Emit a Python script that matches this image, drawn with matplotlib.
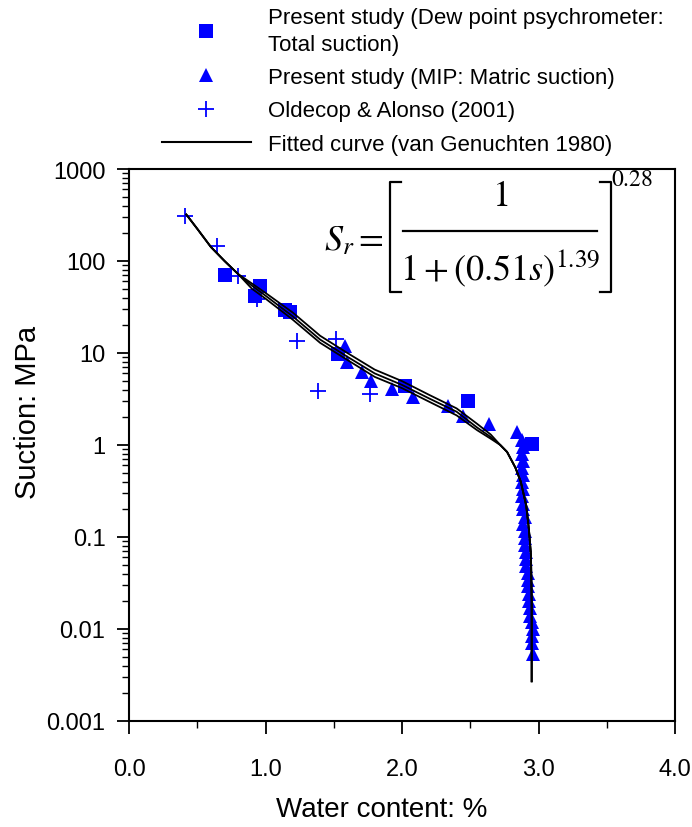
import matplotlib
matplotlib.use("Agg")
import matplotlib.pyplot as plt
from matplotlib.lines import Line2D

plt.rcParams['font.family'] = ['Liberation Sans', 'DejaVu Sans']
plt.rcParams['mathtext.fontset'] = 'stix'

# Present study: dew point psychrometer (total suction)
dew_w = [0.70, 0.96, 0.92, 1.14, 1.18, 1.53, 2.02, 2.48, 2.95]
dew_s = [70, 53, 42, 29, 28, 9.8, 4.35, 3.0, 1.02]

# Present study: MIP (matric suction)
mip_w = [1.58, 1.60, 1.71, 1.77, 1.93, 2.08, 2.34, 2.45, 2.64, 2.84,
         2.88, 2.89, 2.88, 2.89, 2.88, 2.89, 2.88, 2.89, 2.88, 2.89,
         2.89, 2.90, 2.89, 2.90, 2.90, 2.90, 2.91, 2.91, 2.91, 2.92,
         2.92, 2.92, 2.93, 2.93, 2.94, 2.94, 2.95, 2.96]
mip_s = [11.9, 7.9, 6.2, 5.0, 4.1, 3.3, 2.65, 2.07, 1.69, 1.38,
         1.13, 0.95, 0.80, 0.67, 0.56, 0.47, 0.40, 0.33, 0.28, 0.23,
         0.20, 0.165, 0.138, 0.116, 0.097, 0.082, 0.069, 0.058, 0.048, 0.041,
         0.034, 0.029, 0.024, 0.020, 0.017, 0.014, 0.012, 0.010]
mip_w += [2.95, 2.95, 2.96]
mip_s += [0.0084, 0.0070, 0.0054]

# Oldecop & Alonso (2001)
old_w = [0.41, 0.645, 0.80, 0.94, 1.23, 1.385, 1.52, 1.765]
old_s = [308, 146, 69, 39, 13.5, 3.9, 14.2, 3.6]

# Fitted curves (van Genuchten 1980)
fit_w = [0.42, 0.50, 0.60, 0.70, 0.80, 0.90, 1.00, 1.20, 1.40, 1.60, 1.80,
         2.00, 2.20, 2.40, 2.55, 2.65, 2.72, 2.77, 2.83, 2.87, 2.91, 2.93,
         2.945, 2.95, 2.95]
fit_s1 = [320, 224, 142, 100, 72, 54, 42, 25, 14.0, 9.1, 6.0,
          4.5, 3.2, 2.3, 1.55, 1.22, 1.0, 0.84, 0.57, 0.40, 0.22, 0.12,
          0.063, 0.02, 0.0027]
fit_s2 = [320, 224, 142, 100, 72, 57, 45, 27.5, 15.4, 10.0, 6.6,
          4.95, 3.5, 2.5, 1.7, 1.3, 1.0, 0.84, 0.57, 0.40, 0.22, 0.12,
          0.063, 0.02, 0.0027]
fit_s3 = [320, 224, 142, 100, 72, 50, 39, 23, 12.9, 8.4, 5.5,
          4.15, 2.95, 2.1, 1.45, 1.17, 1.0, 0.84, 0.57, 0.40, 0.22, 0.12,
          0.063, 0.02, 0.0027]

blue = '#0000ff'
W, H = 692, 828

fig = plt.figure(figsize=(W / 100, H / 100), dpi=100)
ax = fig.add_axes([129 / W, 1 - 722 / H, 546 / W, 552 / H])

ax.plot(dew_w, dew_s, 's', color=blue, ms=10, mew=0, zorder=3)
ax.plot(mip_w, mip_s, '^', color=blue, ms=10.5, mew=0, zorder=3)
ax.plot(old_w, old_s, '+', color=blue, ms=12, mew=1.3, zorder=3)
for s in (fit_s1, fit_s2, fit_s3):
    ax.plot(fit_w, s, '-', color='black', lw=1.3, zorder=4)

ax.set_yscale('log')
ax.set_xlim(0, 4)
ax.set_ylim(0.001, 1000)
ax.set_xticks([0, 1, 2, 3, 4])
ax.set_xticklabels(['0.0', '1.0', '2.0', '3.0', '4.0'])
ax.set_xticks([0.5, 1.5, 2.5, 3.5], minor=True)
ax.set_yticks([0.001, 0.01, 0.1, 1, 10, 100, 1000])
ax.set_yticklabels(['0.001', '0.01', '0.1', '1', '10', '100', '1000'])
ax.tick_params(which='major', direction='out', length=9, width=1.3,
               labelsize=17, right=False, top=False)
ax.tick_params(axis='x', which='major', pad=18)
ax.tick_params(axis='y', which='major', pad=8)
ax.tick_params(which='minor', direction='out', length=5, width=1.0,
               right=False, top=False)
for sp in ax.spines.values():
    sp.set_linewidth(1.5)

ax.set_xlabel('Water content: %', fontsize=20, va='center')
ax.set_ylabel('Suction: MPa', fontsize=21)
ax.xaxis.set_label_coords(0.463, -0.160)
ax.yaxis.set_label_coords(-0.160, 0.56)


# equation, built piece by piece (pixel positions of the layout)
def fx(x):
    return x / W


def fy(y):
    return 1 - y / H


eq = dict(transform=fig.transFigure, fontsize=26, family='serif')
fig.text(fx(354), fy(240), r'$S_r=$', ha='center', va='center', **eq)
fig.text(fx(500), fy(196), r'$1$', ha='center', va='center', **eq)
fig.text(fx(500), fy(268), r'$1+(0.51s)^{1.39}$', ha='center', va='center', **eq)
fig.text(fx(632), fy(180), r'$0.28$', ha='center', va='center',
         transform=fig.transFigure, fontsize=17)
br = dict(transform=fig.transFigure, color='black', lw=1.6)
fig.add_artist(Line2D([fx(403), fx(597)], [fy(232), fy(232)], **br))
fig.add_artist(Line2D([fx(401), fx(390), fx(390), fx(401)],
                      [fy(183), fy(183), fy(293), fy(293)], **br))
fig.add_artist(Line2D([fx(600), fx(611), fx(611), fx(600)],
                      [fy(183), fy(183), fy(293), fy(293)], **br))

handles = [
    Line2D([], [], ls='none', marker='s', color=blue, ms=10, mew=0),
    Line2D([], [], ls='none', marker='^', color=blue, ms=10.5, mew=0),
    Line2D([], [], ls='none', marker='+', color=blue, ms=12, mew=1.3),
    Line2D([], [], ls='-', color='black', lw=1.5),
]
labels = [
    'Present study (Dew point psychrometer:\nTotal suction)',
    'Present study (MIP: Matric suction)',
    'Oldecop & Alonso (2001)',
    'Fitted curve (van Genuchten 1980)',
]
leg = fig.legend(handles, labels, loc='upper left', bbox_to_anchor=(162 / W, 1 - 8 / H),
                 frameon=False, fontsize=16, handlelength=4.0, handletextpad=0.77,
                 labelspacing=0.56, borderpad=0, borderaxespad=0)
leg.get_texts()[0].set_linespacing(1.35)

fig.savefig('out.png', dpi=100)
